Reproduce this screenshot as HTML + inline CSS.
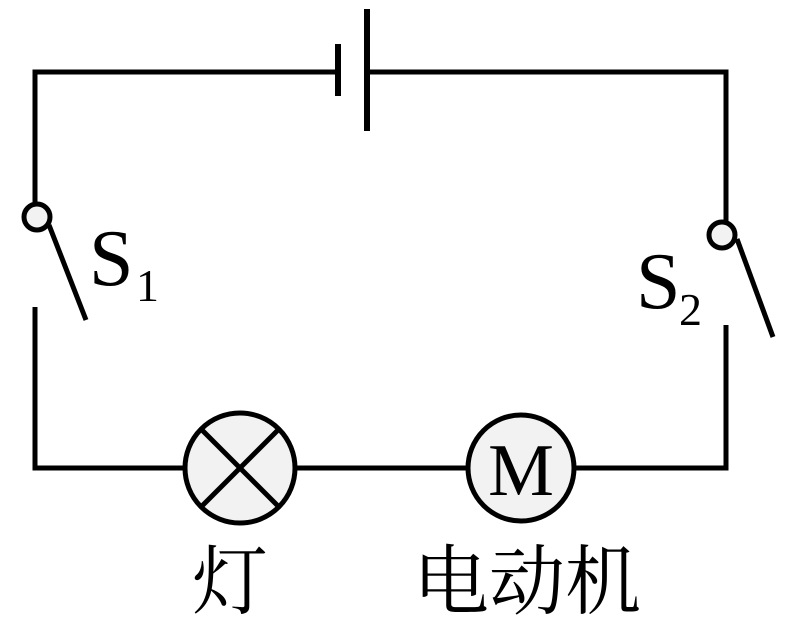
<!DOCTYPE html>
<html><head><meta charset="utf-8"><style>body{margin:0;background:#fff}.t{font-family:"Liberation Serif","Noto Serif CJK SC",serif}</style></head><body>
<svg width="786" height="627" viewBox="0 0 786 627" xmlns="http://www.w3.org/2000/svg">
<g stroke="#000" stroke-width="5" fill="none">
<polyline points="35,205 35,72 338,72"/>
<polyline points="367,72 726,72 726,223"/>
<line x1="338" y1="44" x2="338" y2="96" stroke-width="6"/>
<line x1="367" y1="9" x2="367" y2="131" stroke-width="6"/>
<polyline points="35,307 35,468 185,468"/>
<line x1="295" y1="468" x2="467" y2="468"/>
<polyline points="575,468 726,468 726,325"/>
<line x1="49" y1="225" x2="86" y2="320"/>
<line x1="737" y1="239" x2="773" y2="337"/>
</g>
<g stroke="#000" stroke-width="5" fill="#f2f2f2">
<circle cx="37" cy="217" r="13"/>
<circle cx="722" cy="235" r="13"/>
<circle cx="240" cy="468" r="55"/>
<circle cx="521" cy="468" r="53"/>
</g>
<g stroke="#000" stroke-width="5">
<line x1="201" y1="429" x2="279" y2="507"/>
<line x1="279" y1="429" x2="201" y2="507"/>
</g>
<g class="t" fill="#000">
<text x="89" y="285" font-size="80">S</text>
<text x="136" y="301" font-size="46">1</text>
<text x="636" y="308" font-size="80">S</text>
<text x="679" y="325" font-size="46">2</text>
<text x="521" y="495" font-size="74" text-anchor="middle">M</text>
<text x="192" y="608" font-size="76">灯</text>
<text x="413" y="608" font-size="76">电动机</text>
</g>
</svg>
</body></html>
